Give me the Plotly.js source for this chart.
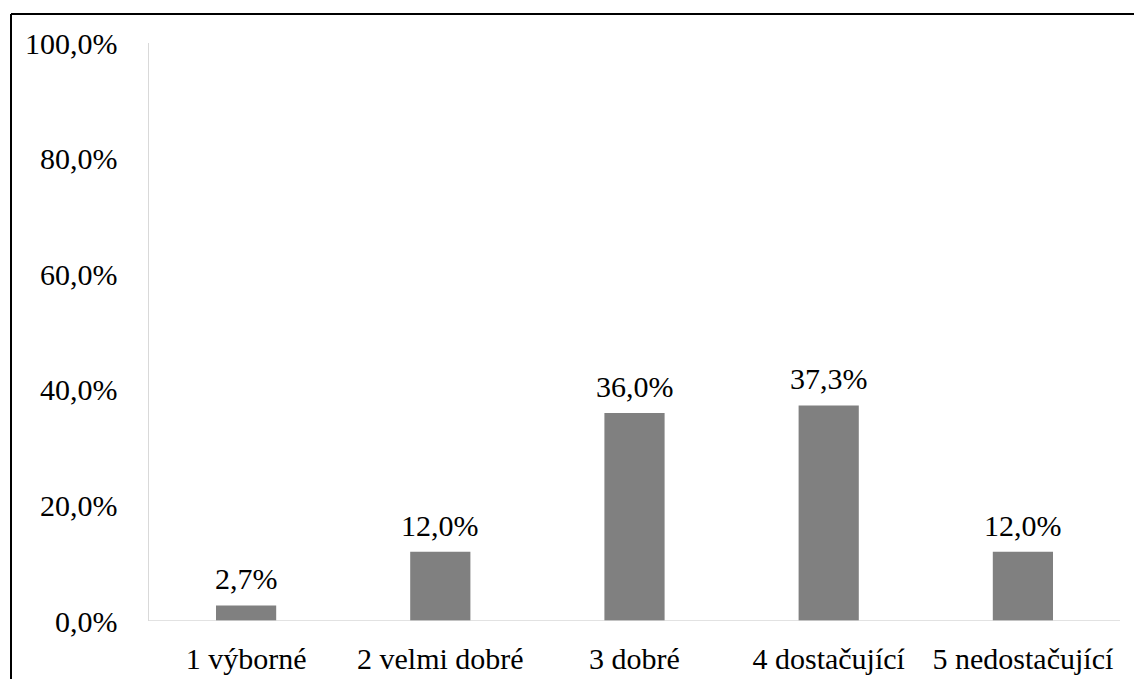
<!DOCTYPE html>
<html>
<head>
<meta charset="utf-8">
<script src="https://cdn.plot.ly/plotly-3.0.1.min.js"></script>
<style>
  html, body { margin: 0; padding: 0; background: #ffffff; }
  #chart { width: 1134px; height: 679px; }
</style>
</head>
<body>
<div id="chart"></div>
<script>
const categories = ["1 výborné", "2 velmi dobré", "3 dobré", "4 dostačující", "5 nedostačující"];
const values = [2.7, 12.0, 36.0, 37.3, 12.0];
const valueLabels = ["2,7%", "12,0%", "36,0%", "37,3%", "12,0%"];
const yTickValues = [0, 20, 40, 60, 80, 100];
const yTickLabels = ["0,0%", "20,0%", "40,0%", "60,0%", "80,0%", "100,0%"];

const W = 1134, H = 679;
const ml = 149, mr = 14, mt = 43, mb = 58;
const pw = W - ml - mr, ph = H - mt - mb;
const px = (x) => (x - ml) / pw;
const py = (y) => (H - mb - y) / ph;

const fontFamily = "Liberation Serif";
const fs = 30;

const trace = {
  type: "bar",
  x: categories,
  y: values,
  marker: { color: "#808080" },
  width: 0.31,
  hoverinfo: "skip"
};

const annotations = categories.map((c, i) => ({
  x: c, y: values[i], xref: "x", yref: "y",
  text: valueLabels[i], showarrow: false,
  yanchor: "bottom", yshift: 8,
  font: { family: fontFamily, size: fs, color: "#000000" }
}));

const layout = {
  width: W, height: H,
  margin: { l: ml, r: mr, t: mt, b: mb },
  paper_bgcolor: "#ffffff", plot_bgcolor: "#ffffff",
  showlegend: false,
  font: { family: fontFamily, size: fs, color: "#000000" },
  xaxis: {
    showgrid: false, zeroline: false,
    showline: false,
    ticks: "", ticklabelstandoff: 17,
    tickfont: { family: fontFamily, size: fs, color: "#000000" },
    fixedrange: true
  },
  yaxis: {
    range: [0, 100],
    showgrid: false, zeroline: false,
    showline: true, linecolor: "#d9d9d9", linewidth: 1.5,
    tickvals: yTickValues, ticktext: yTickLabels,
    ticks: "", ticklabelstandoff: 24,
    tickfont: { family: fontFamily, size: fs, color: "#000000" },
    fixedrange: true
  },
  annotations: annotations,
  shapes: [
    { type: "line", xref: "paper", yref: "y", x0: 0, x1: 1, y0: 0, y1: 0,
      line: { color: "#d9d9d9", width: 1.5 }, layer: "above" },
    { type: "line", xref: "paper", yref: "paper", x0: px(11), x1: px(W + 5), y0: py(14), y1: py(14),
      line: { color: "#000000", width: 2 } },
    { type: "line", xref: "paper", yref: "paper", x0: px(11), x1: px(11), y0: py(14), y1: py(H + 5),
      line: { color: "#000000", width: 2 } }
  ]
};

Plotly.newPlot("chart", [trace], layout, { displayModeBar: false, staticPlot: true }).then(() => {
  document.querySelectorAll("#chart svg text").forEach((t) => {
    t.setAttribute("font-family", "Liberation Serif");
    t.setAttribute("font-size", fs);
    t.setAttribute("style", "font-family: 'Liberation Serif', serif; font-size: " + fs + "px; fill: rgb(0, 0, 0);");
  });
});
</script>
</body>
</html>
